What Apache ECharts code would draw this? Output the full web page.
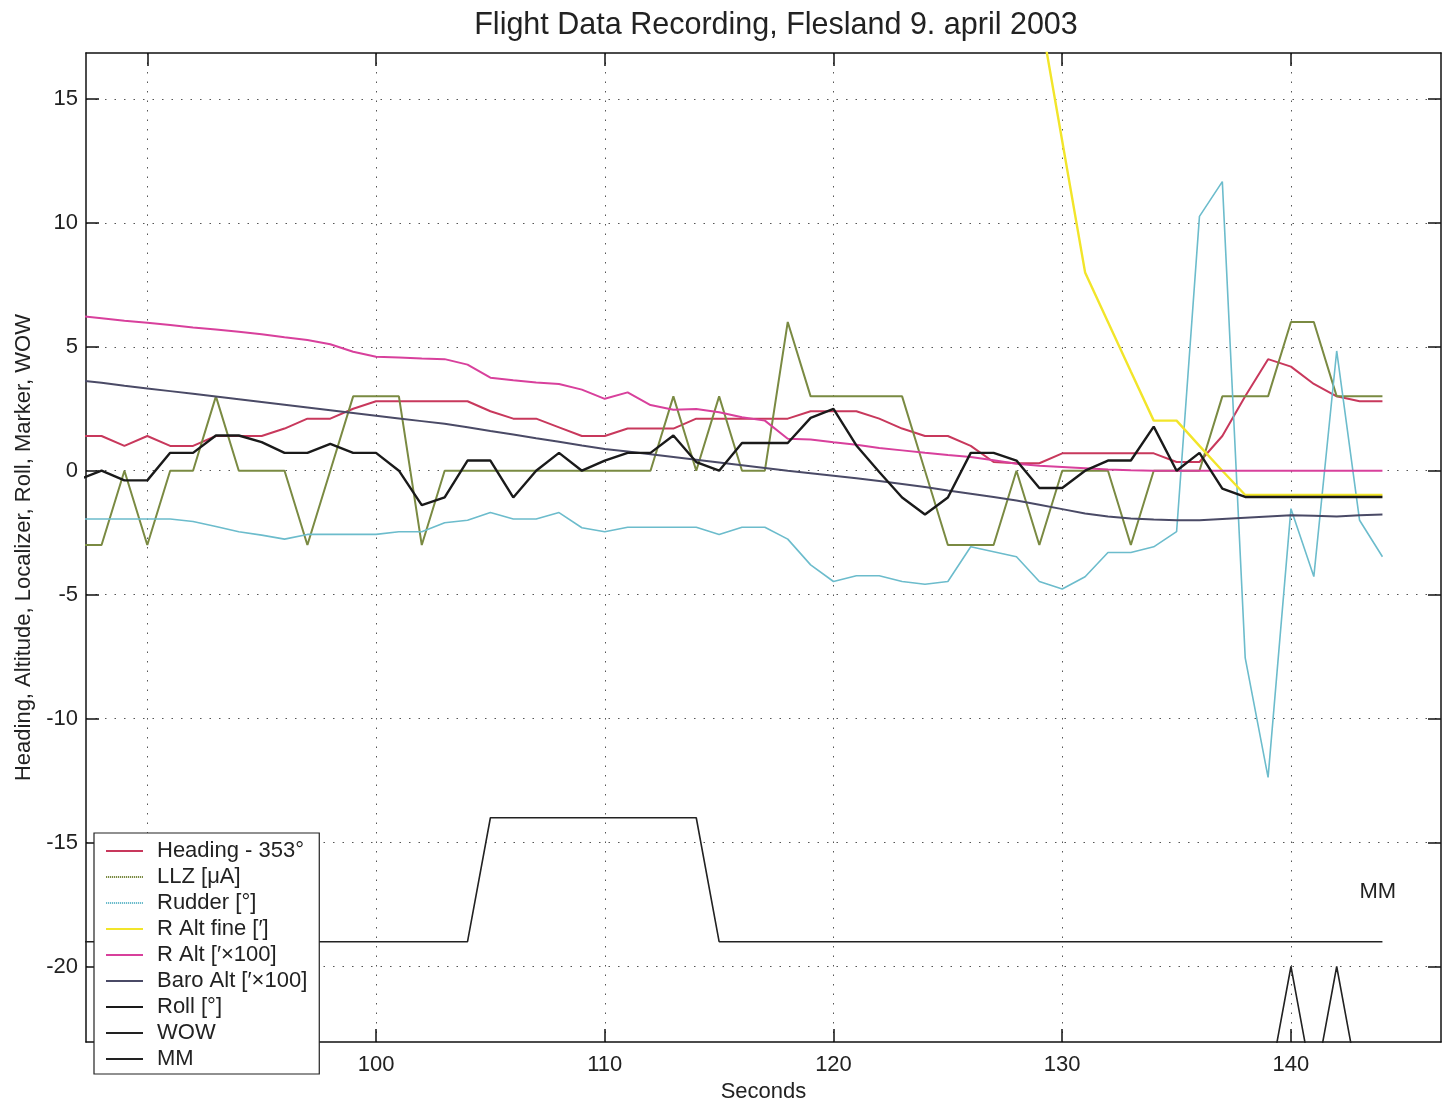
<!DOCTYPE html>
<html><head><meta charset="utf-8">
<script src="https://cdn.jsdelivr.net/npm/echarts@6/dist/echarts.min.js"></script>
<style>html,body{margin:0;padding:0;background:#fff}#c{width:1442px;height:1108px}</style>
</head><body><div id="c"></div>
<script>
// ---- data (seconds 87..144) ----
const seconds = [87,88,89,90,91,92,93,94,95,96,97,98,99,100,101,102,103,104,105,106,107,108,109,110,111,112,113,114,115,116,117,118,119,120,121,122,123,124,125,126,127,128,129,130,131,132,133,134,135,136,137,138,139,140,141,142,143,144];
const heading = [1.4,1.4,1.0,1.4,1.0,1.0,1.4,1.4,1.4,1.7, 2.1,2.1,2.5,2.8,2.8,2.8,2.8,2.8,2.4,2.1, 2.1,1.75,1.4,1.4,1.7,1.7,1.7,2.1,2.1,2.1, 2.1,2.1,2.4,2.4,2.4,2.1,1.7,1.4,1.4,1.0, 0.35,0.3,0.3,0.7,0.7,0.7,0.7,0.7,0.35,0.35, 1.4,3.0,4.5,4.2,3.5,3.0,2.8,2.8];
const llz = [-3,-3,0,-3,0,0,3,0,0,0, -3,0,3,3,3,-3,0,0,0,0, 0,0,0,0,0,0,3,0,3,0, 0,6,3,3,3,3,3,0,-3,-3, -3,0,-3,0,0,0,-3,0,0,0, 3,3,3,6,6,3,3,3];
const rudder = [-1.95,-1.95,-1.95,-1.95,-1.95,-2.05,-2.25,-2.46,-2.6,-2.76, -2.57,-2.57,-2.57,-2.57,-2.46,-2.46,-2.1,-2.0,-1.69,-1.95, -1.95,-1.69,-2.3,-2.46,-2.28,-2.28,-2.28,-2.28,-2.57,-2.28, -2.28,-2.76,-3.8,-4.47,-4.24,-4.24,-4.47,-4.58,-4.47,-3.07, -3.27,-3.47,-4.47,-4.77,-4.28,-3.3,-3.3,-3.07,-2.46,10.26, 11.66,-7.55,-12.37,-1.53,-4.27,4.83,-2.0,-3.47];
const rAltFine = [null,null,null,null,null,null,null,null,null,null, null,null,null,null,null,null,null,null,null,null, null,null,null,null,null,null,null,null,null,null, null,null,null,null,null,null,null,null,null,null, null,null,18.6,13.3,8.0,6.0,4.0,2.02,2.02,1.0, 0.0,-0.98,-0.98,-0.98,-0.98,-0.98,-0.98,-0.98];
const rAlt = [6.25,6.15,6.05,5.97,5.88,5.78,5.7,5.61,5.5,5.38, 5.27,5.1,4.8,4.6,4.57,4.53,4.5,4.28,3.75,3.65, 3.56,3.5,3.27,2.9,3.16,2.65,2.46,2.49,2.36,2.16, 2.02,1.29,1.26,1.15,1.05,0.92,0.82,0.72,0.63,0.55, 0.42,0.28,0.2,0.15,0.1,0.05,0.02,0,0,0, 0,0,0,0,0,0,0,0];
const baroAlt = [3.65,3.55,3.43,3.32,3.21,3.1,2.99,2.88,2.77,2.66, 2.55,2.44,2.33,2.22,2.11,2.0,1.89,1.75,1.6,1.46, 1.31,1.17,1.02,0.88,0.77,0.66,0.55,0.44,0.33,0.22, 0.11,0.0,-0.1,-0.2,-0.3,-0.42,-0.54,-0.66,-0.8,-0.93, -1.06,-1.2,-1.37,-1.55,-1.73,-1.85,-1.93,-1.97,-2.0,-2.0, -1.95,-1.9,-1.85,-1.8,-1.82,-1.85,-1.8,-1.77];
const roll = [-0.36,0,-0.39,-0.39,0.72,0.72,1.42,1.42,1.15,0.72, 0.72,1.08,0.72,0.72,0,-1.39,-1.08,0.41,0.41,-1.08, 0,0.72,0,0.41,0.72,0.72,1.42,0.35,0,1.12, 1.12,1.12,2.13,2.49,1.02,-0.05,-1.08,-1.77,-1.08,0.72, 0.72,0.41,-0.7,-0.7,0,0.41,0.41,1.78,0,0.72, -0.72,-1.06,-1.06,-1.06,-1.06,-1.06,-1.06,-1.06];
const wow = [-25,-25,-25,-25,-25,-25,-25,-25,-25,-25, -25,-25,-25,-25,-25,-25,-25,-25,-25,-25, -25,-25,-25,-25,-25,-25,-25,-25,-25,-25, -25,-25,-25,-25,-25,-25,-25,-25,-25,-25, -25,-25,-25,-25,-25,-25,-25,-25,-25,-25, -25,-25,-25,-20,-25,-20,-25,-25];
const mm = [-19,-19,-19,-19,-19,-19,-19,-19,-19,-19, -19,-19,-19,-19,-19,-19,-19,-19,-14,-14, -14,-14,-14,-14,-14,-14,-14,-14,-19,-19, -19,-19,-19,-19,-19,-19,-19,-19,-19,-19, -19,-19,-19,-19,-19,-19,-19,-19,-19,-19, -19,-19,-19,-19,-19,-19,-19,-19];
const seriesNames = ['Heading - 353°','LLZ [μA]','Rudder [°]','R Alt fine [′]','R Alt [′×100]','Baro Alt [′×100]','Roll [°]','WOW','MM'];
const xTicks = [90,100,110,120,130,140];
const yTicks = [-20,-15,-10,-5,0,5,10,15];
const mmLabel = {text:'MM', x:143.8, y:-17};

// ---- chart ----
const FONT = '"Liberation Sans", Arial, Helvetica, sans-serif';
const INK = '#222';
const chart = echarts.init(document.getElementById('c'));
const pairs = vals => seconds.map((s,i)=>[s, vals[i]]);
const grid = {show:true, lineStyle:{color:'#555', width:1, type:[1.5,8]}};
const axLine = {show:true, onZero:false, lineStyle:{color:'#111', width:1.5}};
const tickX = {show:true, inside:true, length:13, customValues:xTicks, lineStyle:{color:'#111', width:1.5}};
const tickY = {show:true, inside:true, length:13, customValues:yTicks, lineStyle:{color:'#111', width:1.5}};
const XMIN = 87.32, XMAX = 146.56, YMIN = -23.05, YMAX = 16.85;

const styles = [
  {c:'#c8385c', w:2},
  {c:'#7a8a42', w:2},
  {c:'#6cbccc', w:1.6},
  {c:'#f2e52a', w:2.4},
  {c:'#d8409c', w:2},
  {c:'#4a4a66', w:2},
  {c:'#1a1a1a', w:2.4},
  {c:'#222', w:1.6},
  {c:'#222', w:1.6}
];
const dataSets = [heading, llz, rudder, rAltFine, rAlt, baroAlt, roll, wow, mm];
const series = dataSets.map((d,i)=>({
  name: seriesNames[i], type:'line', data: pairs(d), symbol:'none', showSymbol:false,
  color: styles[i].c, lineStyle:{color:styles[i].c, width:styles[i].w}, z: 2,
  clip:true, animation:false
}));
series[8].markPoint = {
  symbol:'rect', symbolSize:[1,1], itemStyle:{color:'rgba(0,0,0,0)'},
  data:[{coord:[mmLabel.x, mmLabel.y], label:{show:true, formatter:mmLabel.text, position:'inside', fontFamily:FONT, fontSize:22, color:INK}}]
};

// legend icons: solid bar, or dotted bar for LLZ and Rudder
const solidIcon = 'path://M0,0h37v2h-37z';
let dots = '';
for (let k = 0; k < 37; k += 2) dots += 'M' + k + ',0h1.2v2h-1.2z';
const dottedIcon = 'path://' + dots;

chart.setOption({
  backgroundColor:'#fff',
  animation:false,
  title:{text:'Flight Data Recording, Flesland 9. april 2003', left:771, top:5, textAlign:'center',
    textStyle:{fontFamily:FONT, fontSize:30.5, fontWeight:'normal', color:INK}},
  legend:{
    orient:'vertical', left:94, top:833, itemGap:0, itemWidth:37, itemHeight:2,
    backgroundColor:'#fff', borderColor:'#222', borderWidth:1.2, borderRadius:0,
    padding:[5,12,2,12], z:10,
    textStyle:{fontFamily:FONT, fontSize:22, color:INK, lineHeight:26, padding:[0,0,0,9]},
    data: seriesNames.map((n,i)=> ({name:n, icon: (i===1||i===2) ? dottedIcon : solidIcon}))
  },
  grid:{left:86, right:1, top:53, bottom:59, containLabel:false},
  xAxis:[
    {type:'value', min:XMIN, max:XMAX, position:'bottom',
     axisLine:axLine, axisTick:tickX, splitLine:grid,
     axisLabel:{customValues:xTicks, fontFamily:FONT, fontSize:22, color:INK, margin:12},
     name:'Seconds', nameLocation:'middle', nameGap:38,
     nameTextStyle:{fontFamily:FONT, fontSize:22, color:INK}},
    {type:'value', min:XMIN, max:XMAX, position:'top',
     axisLine:axLine, axisTick:tickX, splitLine:{show:false}, axisLabel:{show:false}}
  ],
  yAxis:[
    {type:'value', min:YMIN, max:YMAX, position:'left',
     axisLine:axLine, axisTick:tickY, splitLine:grid,
     axisLabel:{customValues:yTicks, fontFamily:FONT, fontSize:22, color:INK, margin:8},
     name:'Heading, Altitude, Localizer, Roll, Marker, WOW', nameLocation:'middle', nameGap:47,
     nameTextStyle:{fontFamily:FONT, fontSize:22, color:INK}},
    {type:'value', min:YMIN, max:YMAX, position:'right',
     axisLine:axLine, axisTick:tickY, splitLine:{show:false}, axisLabel:{show:false}}
  ],
  series: series
});
</script></body></html>
